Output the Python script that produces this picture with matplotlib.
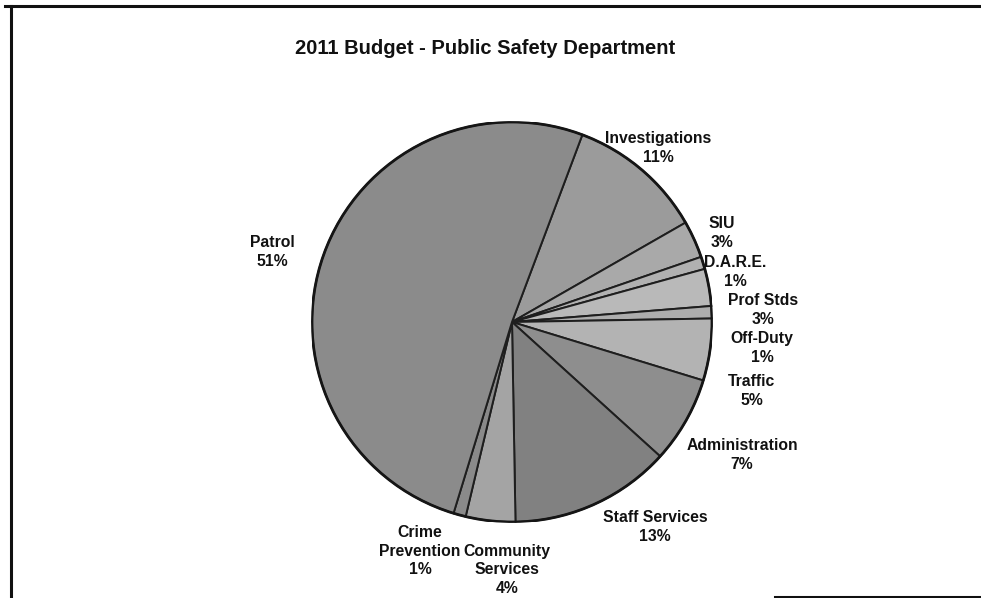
import matplotlib
matplotlib.use("Agg")
import matplotlib.pyplot as plt
from matplotlib.lines import Line2D

# Budget shares, listed clockwise from the top
categories = ["Investigations", "SIU", "D.A.R.E.", "Prof Stds", "Off-Duty", "Traffic",
              "Administration", "Staff Services", "Community\nServices",
              "Crime\nPrevention", "Patrol"]
shares = [11, 3, 1, 3, 1, 5, 7, 13, 4, 1, 51]

colors = ["#9b9b9b", "#a9a9a9", "#b1b1b1", "#b9b9b9", "#adadad", "#b3b3b3",
          "#8e8e8e", "#818181", "#a4a4a4", "#8a8a8a", "#8b8b8b"]

W, H = 981, 598
fig = plt.figure(figsize=(W / 100, H / 100), dpi=100)
fig.patch.set_facecolor("white")

cx, cy, r = 512, 322, 200
ax = fig.add_axes([(cx - r) / W, (H - cy - r) / H, 2 * r / W, 2 * r / H])

wedges, _ = ax.pie(shares, colors=colors, startangle=69.4, counterclock=False,
                   radius=1.0, center=(0, 0),
                   wedgeprops=dict(edgecolor="#1e1e1e", linewidth=1.4))
outline = plt.Circle((0, 0), 1.0, fill=False, edgecolor="#151515", linewidth=2.0)
ax.add_patch(outline)
ax.set_xlim(-1, 1)
ax.set_ylim(-1, 1)
ax.set_aspect("equal")
ax.axis("off")

# Label block centres in pixel coordinates
label_px = [(658, 148), (722, 233), (735, 272), (763, 310), (762, 348), (752, 391),
            (742, 455), (655, 527), (507, 570), (420, 551), (272, 252)]

for name, val, (px, py) in zip(categories, shares, label_px):
    ax.text((px - cx) / r, (cy - py) / r, f"{name}\n{val}%",
            ha="center", va="center", fontsize=11.3, fontweight="bold",
            family="Liberation Sans", color="#111111", linespacing=1.3,
            clip_on=False)

fig.text(485 / W, 1 - 48 / H, "2011 Budget - Public Safety Department",
         ha="center", va="center", fontsize=14.5, fontweight="bold",
         family="Liberation Sans", color="#111111")

# Page frame
frame = dict(color="#111111", linewidth=2.2, transform=fig.transFigure)
fig.add_artist(Line2D([5 / W, 1], [1 - 6 / H, 1 - 6 / H], **frame))
fig.add_artist(Line2D([11 / W, 11 / W], [0, 1 - 6 / H], **frame))
fig.add_artist(Line2D([775 / W, 1], [1 / H, 1 / H], **frame))

fig.savefig("out.png", dpi=100, facecolor="white")
